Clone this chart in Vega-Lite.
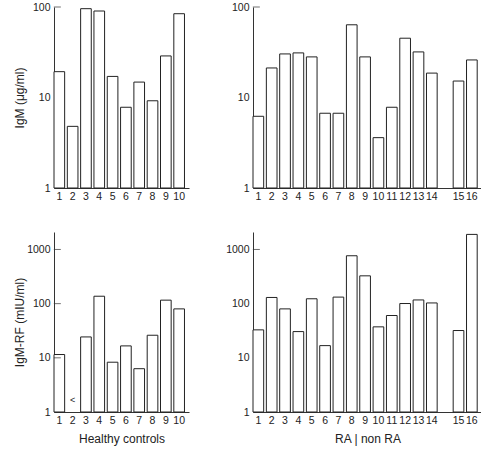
{
  "$schema": "https://vega.github.io/schema/vega-lite/v6.json",
  "padding": {"left": 13, "top": 2, "right": 0, "bottom": 4},
  "columns": 2,
  "spacing": {"row": 30, "column": 36},
  "datasets": {
    "igm_hc": [
      {"id": "1", "value": 19.3}, {"id": "2", "value": 4.8}, {"id": "3", "value": 95.8},
      {"id": "4", "value": 90.3}, {"id": "5", "value": 17.1}, {"id": "6", "value": 7.8},
      {"id": "7", "value": 14.8}, {"id": "8", "value": 9.2}, {"id": "9", "value": 28.8},
      {"id": "10", "value": 84.3}
    ],
    "igm_ra": [
      {"id": "1", "value": 6.2}, {"id": "2", "value": 21.2}, {"id": "3", "value": 30.3},
      {"id": "4", "value": 31.1}, {"id": "5", "value": 28.1}, {"id": "6", "value": 6.7},
      {"id": "7", "value": 6.7}, {"id": "8", "value": 63.6}, {"id": "9", "value": 28.1},
      {"id": "10", "value": 3.6}, {"id": "11", "value": 7.8}, {"id": "12", "value": 45.2},
      {"id": "13", "value": 31.9}, {"id": "14", "value": 18.6}, {"id": "15", "value": 15.2},
      {"id": "16", "value": 26.0}
    ],
    "rf_hc": [
      {"id": "1", "value": 11.5}, {"id": "3", "value": 24.3},
      {"id": "4", "value": 137}, {"id": "5", "value": 8.3}, {"id": "6", "value": 16.6},
      {"id": "7", "value": 6.3}, {"id": "8", "value": 26.1}, {"id": "9", "value": 116},
      {"id": "10", "value": 80}
    ],
    "rf_marker": [
      {"id": "2", "value": 1.69, "label": "<"}
    ],
    "rf_ra": [
      {"id": "1", "value": 32.8}, {"id": "2", "value": 130}, {"id": "3", "value": 80},
      {"id": "4", "value": 30.5}, {"id": "5", "value": 123}, {"id": "6", "value": 16.8},
      {"id": "7", "value": 132}, {"id": "8", "value": 765}, {"id": "9", "value": 326},
      {"id": "10", "value": 37.3}, {"id": "11", "value": 60.4}, {"id": "12", "value": 100.5},
      {"id": "13", "value": 117}, {"id": "14", "value": 103}, {"id": "15", "value": 31.9},
      {"id": "16", "value": 1896}
    ],
    "ticks_top": [{"id": "1", "value": 100}],
    "ticks_bl": [{"id": "1", "value": 1000}, {"id": "1", "value": 100}, {"id": "1", "value": 10}],
    "ticks_br": [{"id": "1", "value": 1000}]
  },
  "concat": [
    {
      "width": 135, "height": 181,
      "encoding": {
        "x": {"field": "id", "type": "ordinal", "sort": null,
          "scale": {"domain": ["1","2","3","4","5","6","7","8","9","10"], "paddingInner": 0.2, "paddingOuter": 0.17, "align": 0},
          "axis": {"title": null}},
        "y": {"field": "value", "type": "quantitative",
          "scale": {"type": "log", "domain": [1, 100], "nice": false},
          "axis": {"values": [1, 10, 100], "title": "IgM (μg/ml)", "titleX": -28, "titleY": 90.5}}
      },
      "layer": [
        {"data": {"name": "ticks_top"}, "mark": {"type": "tick", "size": 7, "thickness": 1, "color": "#333", "xOffset": -2}},
        {"data": {"name": "igm_hc"}, "mark": {"type": "bar", "fill": "white", "stroke": "#222", "strokeWidth": 1},
          "encoding": {"y2": {"datum": 1}}}
      ]
    },
    {
      "width": 229, "height": 181,
      "encoding": {
        "x": {"field": "id", "type": "ordinal", "sort": null,
          "scale": {"domain": ["1","2","3","4","5","6","7","8","9","10","11","12","13","14","gap","15","16"], "paddingInner": 0.2, "paddingOuter": 0.18, "align": 0},
          "axis": {"title": null, "labelExpr": "datum.label == 'gap' ? '' : datum.label"}},
        "y": {"field": "value", "type": "quantitative",
          "scale": {"type": "log", "domain": [1, 100], "nice": false},
          "axis": {"values": [1, 10, 100], "title": null}}
      },
      "layer": [
        {"data": {"name": "ticks_top"}, "mark": {"type": "tick", "size": 7, "thickness": 1, "color": "#333", "xOffset": -2}},
        {"data": {"name": "igm_ra"}, "mark": {"type": "bar", "fill": "white", "stroke": "#222", "strokeWidth": 1},
          "encoding": {"y2": {"datum": 1}}}
      ]
    },
    {
      "width": 135, "height": 180,
      "encoding": {
        "x": {"field": "id", "type": "ordinal", "sort": null,
          "scale": {"domain": ["1","2","3","4","5","6","7","8","9","10"], "paddingInner": 0.2, "paddingOuter": 0.17, "align": 0},
          "axis": {"title": "Healthy controls"}},
        "y": {"field": "value", "type": "quantitative",
          "scale": {"type": "log", "domain": [1, 2100], "nice": false},
          "axis": {"values": [1, 10, 100, 1000], "title": "IgM-RF (mIU/ml)", "titleX": -28, "titleY": 90}}
      },
      "layer": [
        {"data": {"name": "rf_hc"}, "mark": {"type": "bar", "fill": "white", "stroke": "#222", "strokeWidth": 1},
          "encoding": {"y2": {"datum": 1}}},
        {"data": {"name": "ticks_bl"}, "mark": {"type": "tick", "size": 7, "thickness": 1, "color": "#333", "xOffset": -2}},
        {
          "data": {"name": "rf_marker"},
          "mark": {"type": "text", "fontSize": 9, "font": "Liberation Sans", "color": "#222", "baseline": "middle", "align": "center"},
          "encoding": {"text": {"field": "label"}}
        }
      ]
    },
    {
      "width": 229, "height": 180,
      "encoding": {
        "x": {"field": "id", "type": "ordinal", "sort": null,
          "scale": {"domain": ["1","2","3","4","5","6","7","8","9","10","11","12","13","14","gap","15","16"], "paddingInner": 0.2, "paddingOuter": 0.18, "align": 0},
          "axis": {"title": "RA | non RA", "labelExpr": "datum.label == 'gap' ? '' : datum.label"}},
        "y": {"field": "value", "type": "quantitative",
          "scale": {"type": "log", "domain": [1, 2100], "nice": false},
          "axis": {"values": [1, 10, 100, 1000], "title": null}}
      },
      "layer": [
        {"data": {"name": "ticks_br"}, "mark": {"type": "tick", "size": 7, "thickness": 1, "color": "#333", "xOffset": -2}},
        {"data": {"name": "rf_ra"}, "mark": {"type": "bar", "fill": "white", "stroke": "#222", "strokeWidth": 1},
          "encoding": {"y2": {"datum": 1}}}
      ]
    }
  ],
  "config": {
    "view": {"stroke": null},
    "font": "Liberation Sans",
    "axis": {
      "grid": false,
      "domainColor": "#333",
      "tickColor": "#333",
      "labelColor": "#222",
      "titleColor": "#222",
      "labelFont": "Liberation Sans",
      "titleFont": "Liberation Sans",
      "labelFontSize": 10.5,
      "titleFontSize": 12,
      "titleFontWeight": "normal"
    },
    "axisX": {"ticks": false, "labelAngle": 0, "labelPadding": 3, "titlePadding": 8, "labelFlush": false},
    "axisY": {"ticks": false, "labelPadding": 4, "format": "d", "labelFlush": false}
  }
}
